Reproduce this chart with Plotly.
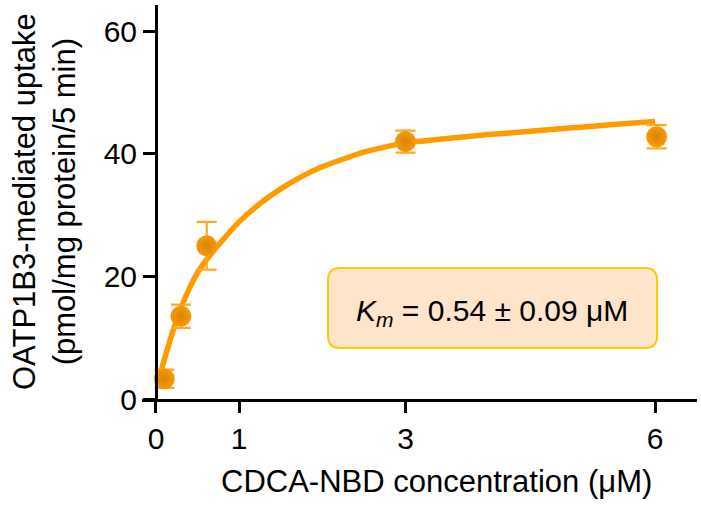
import plotly.graph_objects as go

# Measured data (mean ± error)
conc = [0.1, 0.3, 0.61, 3.0, 6.02]
uptake = [3.3, 13.5, 25.0, 42.0, 42.8]
err = [1.5, 1.9, 3.9, 1.8, 1.9]

# Fitted curve
fit_x = [0.03, 0.1, 0.2, 0.3, 0.4, 0.5, 0.6, 0.8, 1.0, 1.25, 1.5, 1.75, 2.0,
         2.5, 3.0, 3.5, 4.0, 4.5, 5.0, 5.5, 6.0]
fit_y = [3.1, 6.4, 10.9, 14.8, 18.0, 20.6, 22.6, 25.9, 28.9, 31.9, 34.3, 36.3, 37.9,
         40.3, 41.8, 42.5, 43.15, 43.7, 44.25, 44.8, 45.3]

x_ticks = [0, 1, 3, 6]
y_ticks = [0, 20, 40, 60]

FONT = "Liberation Sans, Arial, sans-serif"
ORANGE = "#FF9B00"

fig = go.Figure()
fig.add_trace(go.Scatter(
    x=fit_x, y=fit_y, mode="lines",
    line=dict(color=ORANGE, width=5.5, shape="spline", smoothing=0.6),
    hoverinfo="skip", showlegend=False))
fig.add_trace(go.Scatter(
    x=conc, y=uptake, mode="markers",
    marker=dict(size=21, color="#F59A0A",
                gradient=dict(type="radial", color="#DB8400"),
                line=dict(width=0)),
    error_y=dict(type="data", array=err, visible=True, color="#FFA623",
                 thickness=2.2, width=10),
    showlegend=False))

W, H = 701, 505
L, R, T, B = 142, 4, 5, 106
pw = W - L - R
ph = H - T - B

fig.update_layout(
    width=W, height=H,
    margin=dict(l=L, r=R, t=T, b=B, pad=0, autoexpand=False),
    paper_bgcolor="white", plot_bgcolor="white",
    font=dict(family=FONT, size=31, color="black"),
    xaxis=dict(range=[-0.168, 6.505], tickvals=x_ticks, ticktext=[str(v) for v in x_ticks],
               showline=True, linecolor="black", linewidth=3,
               ticks="outside", ticklen=11, tickwidth=2.5, tickcolor="black",
               showgrid=False, zeroline=False, anchor="y", automargin=False,
               tickfont=dict(size=30, family=FONT)),
    yaxis=dict(range=[0, 64.3], tickvals=y_ticks, ticktext=[str(v) for v in y_ticks],
               showline=True, linecolor="black", linewidth=3,
               ticks="outside", ticklen=12, tickwidth=2.5, tickcolor="black",
               showgrid=False, zeroline=False, automargin=False,
               anchor="free", position=(156 - L) / pw,
               tickfont=dict(size=30, family=FONT)),
)

# Rounded annotation box (pixel-sized, anchored in paper coords)
cx = (492.5 - L) / pw
cy = (399 - 308) / ph
hw, hh, r = 164.5, 40, 12
path = (f"M {-hw + r},{-hh} L {hw - r},{-hh} Q {hw},{-hh} {hw},{-hh + r} "
        f"L {hw},{hh - r} Q {hw},{hh} {hw - r},{hh} L {-hw + r},{hh} "
        f"Q {-hw},{hh} {-hw},{hh - r} L {-hw},{-hh + r} Q {-hw},{-hh} {-hw + r},{-hh} Z")
fig.add_shape(type="path", xref="paper", yref="paper",
              xsizemode="pixel", ysizemode="pixel", xanchor=cx, yanchor=cy,
              path=path, fillcolor="#FDE4CB", line=dict(color="#FFC80A", width=2),
              layer="above")

fig.add_annotation(xref="paper", yref="paper", x=(492 - L) / pw, y=(399 - 312) / ph,
                   text="<i>K</i><sub><i>m</i></sub> = 0.54 ± 0.09 μM",
                   showarrow=False, font=dict(size=30, family=FONT, color="black"),
                   xanchor="center", yanchor="middle")

# Axis titles
fig.add_annotation(xref="paper", yref="paper", x=(436.5 - L) / pw, y=(399 - 482) / ph,
                   text="CDCA-NBD concentration (μM)", showarrow=False,
                   font=dict(size=31, family=FONT, color="black"),
                   xanchor="center", yanchor="middle")
fig.add_annotation(xref="paper", yref="paper", x=(44 - L) / pw, y=0.5,
                   text="OATP1B3-mediated uptake<br>(pmol/mg protein/5 min)",
                   showarrow=False, textangle=-90,
                   font=dict(size=31, family=FONT, color="black"),
                   xanchor="center", yanchor="middle")

fig.write_html("out.html", config={"displayModeBar": False},
               post_script="document.body.style.margin='0';document.body.style.padding='0';")
